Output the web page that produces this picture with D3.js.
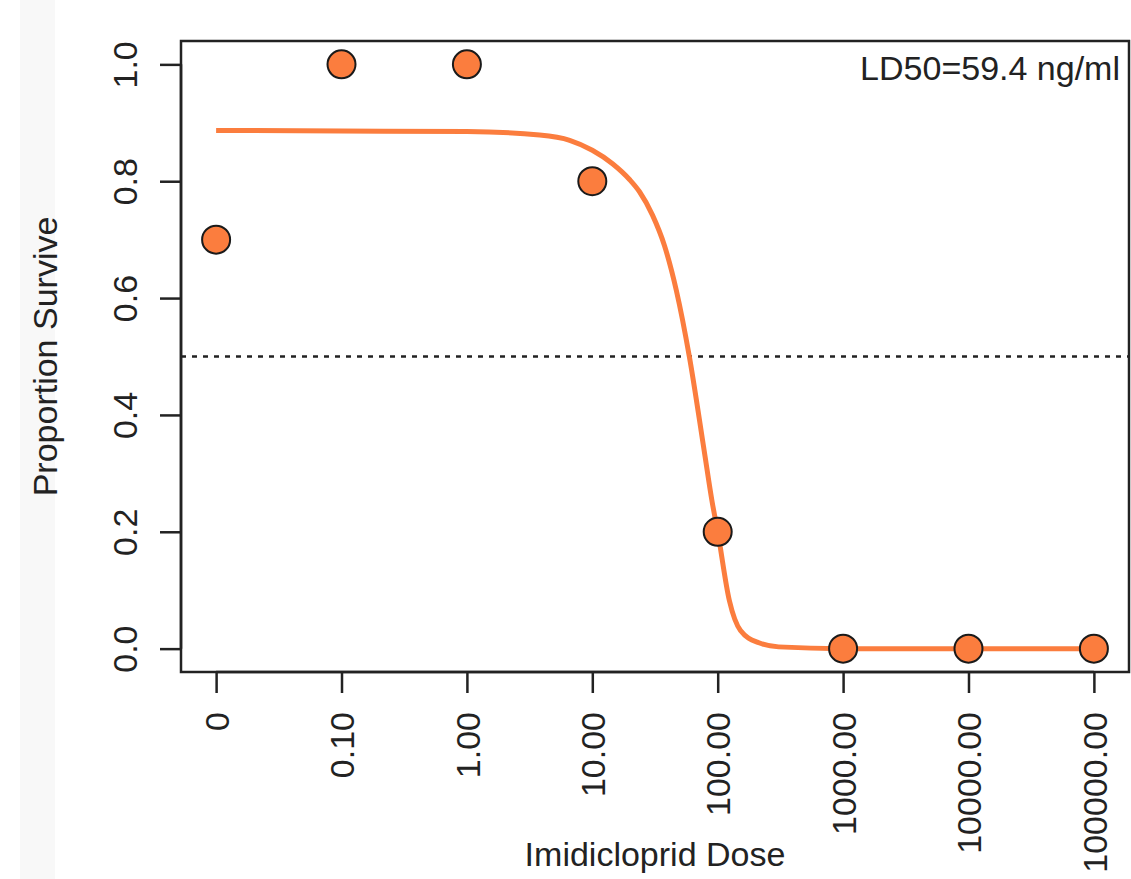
<!DOCTYPE html>
<html>
<head>
<meta charset="utf-8">
<script src="https://cdn.jsdelivr.net/npm/d3@7"></script>
<style>
  body { margin: 0; background: #fff; }
  svg text { font-family: "Liberation Sans", Arial, Helvetica, sans-serif; fill: #222; }
</style>
</head>
<body>
<div id="chart"></div>
<script>
// observed survival, dose 0 is drawn at 0.01 on the log axis
var doses = [0, 0.1, 1, 10, 100, 1000, 10000, 100000];
var survival = [0.7, 1, 1, 0.8, 0.2, 0, 0, 0];
var zeroDose = 0.01;

// fitted dose-response curve
var curveDose = [0.01, 0.1, 1, 3.8, 6.6, 10, 14.5, 19.8, 23.8, 30.2, 37.6, 46.8, 59.4, 78, 90, 100, 124, 152, 213, 306, 1000, 100000];
var curveSurv = [0.887, 0.886, 0.885, 0.879, 0.870, 0.853, 0.830, 0.803, 0.782, 0.742, 0.690, 0.613, 0.5, 0.339, 0.253, 0.2, 0.082, 0.031, 0.010, 0.003, 0, 0];

var xTickVals = [0.01, 0.1, 1, 10, 100, 1000, 10000, 100000];
var xTickLabels = ["0", "0.10", "1.00", "10.00", "100.00", "1000.00", "10000.00", "100000.00"];
var yTickVals = [0, 0.2, 0.4, 0.6, 0.8, 1.0];

var ld50Label = "LD50=59.4 ng/ml";
var xTitle = "Imidicloprid Dose";
var yTitle = "Proportion Survive";

var width = 1131, height = 879;
var plotLeft = 181, plotRight = 1129, plotTop = 41, plotBottom = 672;
var fontSize = 34;
var orange = "#fb7d3e";

var svg = d3.select("#chart").append("svg")
    .attr("width", width).attr("height", height);

// light strip on the left side of the page
svg.append("rect")
    .attr("x", 20).attr("y", 0)
    .attr("width", 35).attr("height", height)
    .attr("fill", "#f8f8f8");

// R style 4% padding around the data range
var x = d3.scaleLog()
    .domain([Math.pow(10, -2.28), Math.pow(10, 5.28)])
    .range([plotLeft, plotRight]);
var y = d3.scaleLinear()
    .domain([-0.04, 1.04])
    .range([plotBottom, plotTop]);

// 0.5 reference line
svg.append("line")
    .attr("x1", plotLeft).attr("x2", plotRight)
    .attr("y1", y(0.5)).attr("y2", y(0.5))
    .attr("stroke", "#222")
    .attr("stroke-width", 2.5)
    .attr("stroke-dasharray", "5,6");

var curveData = curveDose.map(function(d, i){ return [d, curveSurv[i]]; });
var line = d3.line()
    .x(function(d){ return x(d[0]); })
    .y(function(d){ return y(d[1]); })
    .curve(d3.curveMonotoneX);

svg.append("path")
    .datum(curveData)
    .attr("d", line)
    .attr("fill", "none")
    .attr("stroke", orange)
    .attr("stroke-width", 5);

var points = doses.map(function(d, i){ return {dose: d === 0 ? zeroDose : d, surv: survival[i]}; });
svg.selectAll("circle.pt").data(points).enter()
    .append("circle")
    .attr("class", "pt")
    .attr("cx", function(d){ return x(d.dose); })
    .attr("cy", function(d){ return y(d.surv); })
    .attr("r", 14)
    .attr("fill", orange)
    .attr("stroke", "#1a1a1a")
    .attr("stroke-width", 2);

// box
svg.append("rect")
    .attr("x", plotLeft).attr("y", plotTop)
    .attr("width", plotRight - plotLeft).attr("height", plotBottom - plotTop)
    .attr("fill", "none")
    .attr("stroke", "#222")
    .attr("stroke-width", 2.5);

// x axis
var xAxis = d3.axisBottom(x)
    .tickValues(xTickVals)
    .tickSize(21)
    .tickFormat(function(d, i){ return xTickLabels[i]; });
var gx = svg.append("g")
    .attr("transform", "translate(0," + plotBottom + ")")
    .call(xAxis);
gx.select(".domain")
    .attr("d", "M" + x(xTickVals[0]) + ",0H" + x(xTickVals[xTickVals.length - 1]))
    .attr("stroke", "#222").attr("stroke-width", 2.5);
gx.selectAll(".tick line").attr("stroke", "#222").attr("stroke-width", 2.5);
gx.selectAll(".tick text")
    .attr("font-size", fontSize)
    .attr("fill", "#222")
    .attr("transform", "rotate(-90)")
    .attr("x", -40).attr("y", 0)
    .attr("dy", "0.36em")
    .attr("text-anchor", "end");

// y axis
var yAxis = d3.axisLeft(y)
    .tickValues(yTickVals)
    .tickSize(21)
    .tickFormat(d3.format(".1f"));
var gy = svg.append("g")
    .attr("transform", "translate(" + plotLeft + ",0)")
    .call(yAxis);
gy.select(".domain")
    .attr("d", "M0," + y(0) + "V" + y(1))
    .attr("stroke", "#222").attr("stroke-width", 2.5);
gy.selectAll(".tick line").attr("stroke", "#222").attr("stroke-width", 2.5);
gy.selectAll(".tick text")
    .attr("font-size", fontSize)
    .attr("fill", "#222")
    .attr("transform", "rotate(-90)")
    .attr("x", 0).attr("y", -44)
    .attr("dy", 0)
    .attr("text-anchor", "middle");

// titles
svg.append("text")
    .attr("x", (plotLeft + plotRight) / 2)
    .attr("y", 866)
    .attr("text-anchor", "middle")
    .attr("font-size", fontSize)
    .text(xTitle);

svg.append("text")
    .attr("transform", "translate(57," + ((plotTop + plotBottom) / 2) + ") rotate(-90)")
    .attr("text-anchor", "middle")
    .attr("font-size", fontSize)
    .text(yTitle);

svg.append("text")
    .attr("x", 1120)
    .attr("y", 80)
    .attr("text-anchor", "end")
    .attr("font-size", fontSize)
    .text(ld50Label);
</script>
</body>
</html>
